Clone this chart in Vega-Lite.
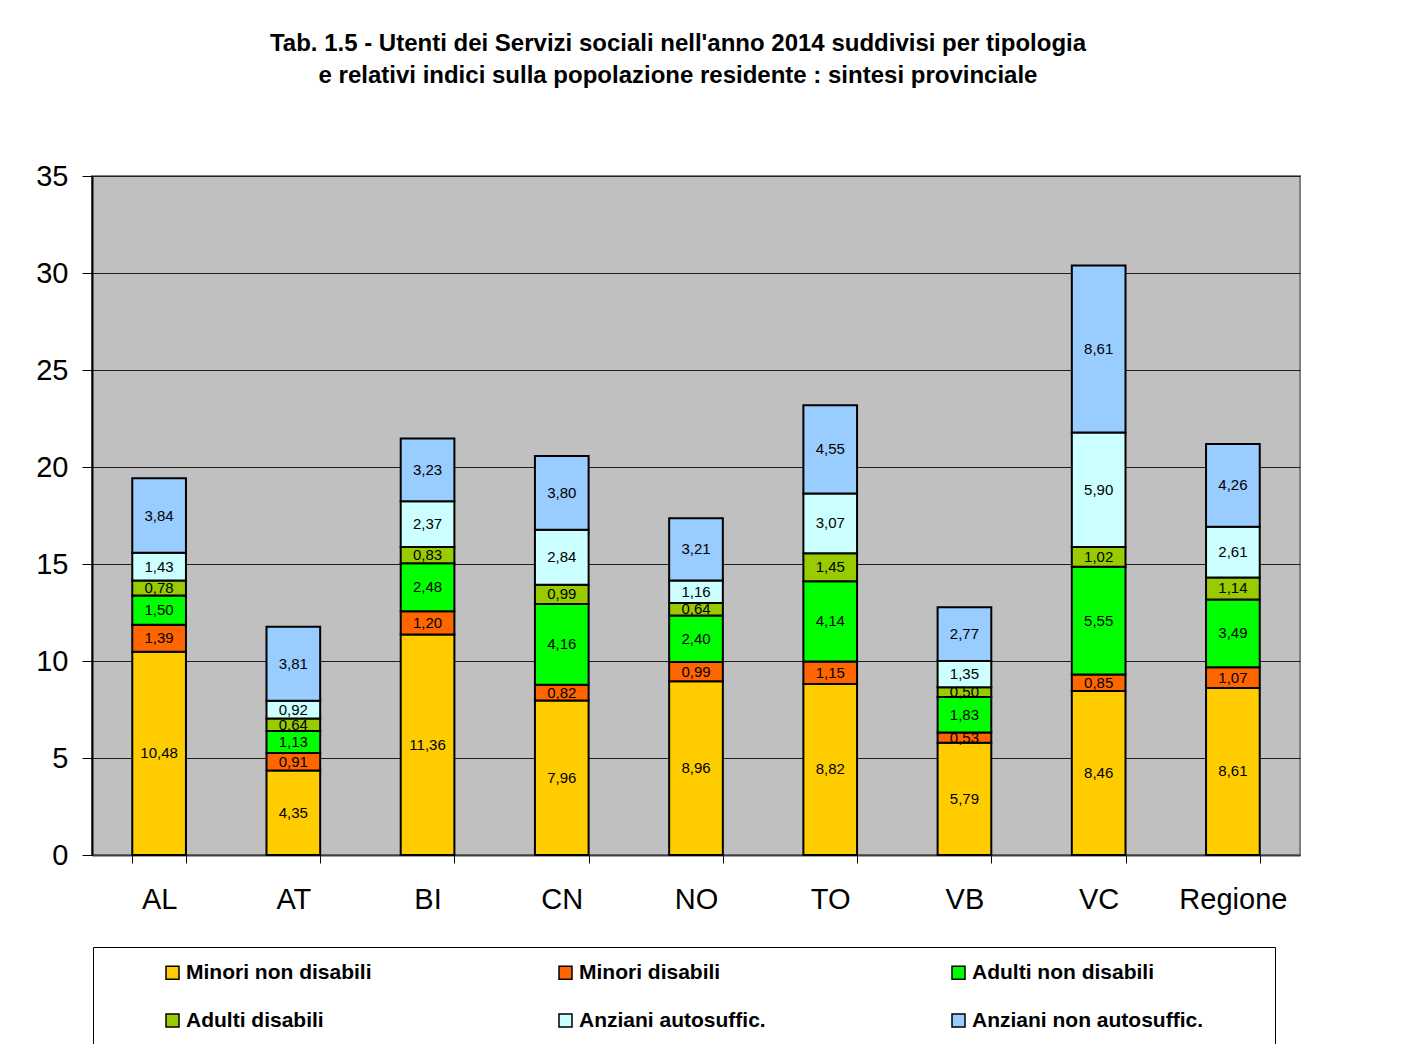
{
  "$schema": "https://vega.github.io/schema/vega-lite/v6.json",
  "width": 1208,
  "height": 679,
  "autosize": {"type": "none"},
  "padding": {"left": 92, "top": 176, "right": 126, "bottom": 189},
  "background": "white",
  "config": {
    "locale": {"number": {"decimal": ",", "thousands": ".", "grouping": [3], "currency": ["€", ""]}},
    "font": "Liberation Sans",
    "view": {"fill": "#C0C0C0", "stroke": "#808080", "strokeWidth": 2}
  },
  "title": {
    "text": ["Tab. 1.5 - Utenti dei Servizi sociali nell'anno 2014 suddivisi per tipologia", "e relativi indici sulla popolazione residente : sintesi provinciale"],
    "anchor": "middle",
    "frame": "group",
    "fontSize": 24,
    "fontWeight": "bold",
    "lineHeight": 32,
    "offset": 74,
    "dx": -18,
    "color": "black"
  },
  "data": {"values": [
    {"area": "AL", "tipo": "Minori non disabili", "ord": 1, "v": 10.48},
    {"area": "AL", "tipo": "Minori disabili", "ord": 2, "v": 1.39},
    {"area": "AL", "tipo": "Adulti non disabili", "ord": 3, "v": 1.50},
    {"area": "AL", "tipo": "Adulti disabili", "ord": 4, "v": 0.78},
    {"area": "AL", "tipo": "Anziani autosuffic.", "ord": 5, "v": 1.43},
    {"area": "AL", "tipo": "Anziani non autosuffic.", "ord": 6, "v": 3.84},
    {"area": "AT", "tipo": "Minori non disabili", "ord": 1, "v": 4.35},
    {"area": "AT", "tipo": "Minori disabili", "ord": 2, "v": 0.91},
    {"area": "AT", "tipo": "Adulti non disabili", "ord": 3, "v": 1.13},
    {"area": "AT", "tipo": "Adulti disabili", "ord": 4, "v": 0.64},
    {"area": "AT", "tipo": "Anziani autosuffic.", "ord": 5, "v": 0.92},
    {"area": "AT", "tipo": "Anziani non autosuffic.", "ord": 6, "v": 3.81},
    {"area": "BI", "tipo": "Minori non disabili", "ord": 1, "v": 11.36},
    {"area": "BI", "tipo": "Minori disabili", "ord": 2, "v": 1.20},
    {"area": "BI", "tipo": "Adulti non disabili", "ord": 3, "v": 2.48},
    {"area": "BI", "tipo": "Adulti disabili", "ord": 4, "v": 0.83},
    {"area": "BI", "tipo": "Anziani autosuffic.", "ord": 5, "v": 2.37},
    {"area": "BI", "tipo": "Anziani non autosuffic.", "ord": 6, "v": 3.23},
    {"area": "CN", "tipo": "Minori non disabili", "ord": 1, "v": 7.96},
    {"area": "CN", "tipo": "Minori disabili", "ord": 2, "v": 0.82},
    {"area": "CN", "tipo": "Adulti non disabili", "ord": 3, "v": 4.16},
    {"area": "CN", "tipo": "Adulti disabili", "ord": 4, "v": 0.99},
    {"area": "CN", "tipo": "Anziani autosuffic.", "ord": 5, "v": 2.84},
    {"area": "CN", "tipo": "Anziani non autosuffic.", "ord": 6, "v": 3.80},
    {"area": "NO", "tipo": "Minori non disabili", "ord": 1, "v": 8.96},
    {"area": "NO", "tipo": "Minori disabili", "ord": 2, "v": 0.99},
    {"area": "NO", "tipo": "Adulti non disabili", "ord": 3, "v": 2.40},
    {"area": "NO", "tipo": "Adulti disabili", "ord": 4, "v": 0.64},
    {"area": "NO", "tipo": "Anziani autosuffic.", "ord": 5, "v": 1.16},
    {"area": "NO", "tipo": "Anziani non autosuffic.", "ord": 6, "v": 3.21},
    {"area": "TO", "tipo": "Minori non disabili", "ord": 1, "v": 8.82},
    {"area": "TO", "tipo": "Minori disabili", "ord": 2, "v": 1.15},
    {"area": "TO", "tipo": "Adulti non disabili", "ord": 3, "v": 4.14},
    {"area": "TO", "tipo": "Adulti disabili", "ord": 4, "v": 1.45},
    {"area": "TO", "tipo": "Anziani autosuffic.", "ord": 5, "v": 3.07},
    {"area": "TO", "tipo": "Anziani non autosuffic.", "ord": 6, "v": 4.55},
    {"area": "VB", "tipo": "Minori non disabili", "ord": 1, "v": 5.79},
    {"area": "VB", "tipo": "Minori disabili", "ord": 2, "v": 0.53},
    {"area": "VB", "tipo": "Adulti non disabili", "ord": 3, "v": 1.83},
    {"area": "VB", "tipo": "Adulti disabili", "ord": 4, "v": 0.50},
    {"area": "VB", "tipo": "Anziani autosuffic.", "ord": 5, "v": 1.35},
    {"area": "VB", "tipo": "Anziani non autosuffic.", "ord": 6, "v": 2.77},
    {"area": "VC", "tipo": "Minori non disabili", "ord": 1, "v": 8.46},
    {"area": "VC", "tipo": "Minori disabili", "ord": 2, "v": 0.85},
    {"area": "VC", "tipo": "Adulti non disabili", "ord": 3, "v": 5.55},
    {"area": "VC", "tipo": "Adulti disabili", "ord": 4, "v": 1.02},
    {"area": "VC", "tipo": "Anziani autosuffic.", "ord": 5, "v": 5.90},
    {"area": "VC", "tipo": "Anziani non autosuffic.", "ord": 6, "v": 8.61},
    {"area": "Regione", "tipo": "Minori non disabili", "ord": 1, "v": 8.61},
    {"area": "Regione", "tipo": "Minori disabili", "ord": 2, "v": 1.07},
    {"area": "Regione", "tipo": "Adulti non disabili", "ord": 3, "v": 3.49},
    {"area": "Regione", "tipo": "Adulti disabili", "ord": 4, "v": 1.14},
    {"area": "Regione", "tipo": "Anziani autosuffic.", "ord": 5, "v": 2.61},
    {"area": "Regione", "tipo": "Anziani non autosuffic.", "ord": 6, "v": 4.26}
  ]},
  "transform": [
    {"stack": "v", "groupby": ["area"], "sort": [{"field": "ord", "order": "ascending"}], "as": ["v0", "v1"]},
    {"calculate": "(datum.v0 + datum.v1) / 2", "as": "vmid"}
  ],
  "encoding": {
    "x": {
      "field": "area", "type": "nominal",
      "sort": ["AL", "AT", "BI", "CN", "NO", "TO", "VB", "VC", "Regione"],
      "scale": {"paddingInner": 0.6, "paddingOuter": 0.3},
      "axis": {
        "title": null, "labelAngle": 0, "labelFontSize": 29, "labelColor": "black",
        "labelPadding": 22, "tickBand": "extent", "tickSize": 8, "tickColor": "black",
        "domainColor": "#404040", "domainWidth": 2
      }
    }
  },
  "layer": [
    {
      "mark": {"type": "bar", "stroke": "black", "strokeWidth": 2},
      "encoding": {
        "y": {
          "field": "v0", "type": "quantitative",
          "scale": {"domain": [0, 35], "nice": false},
          "axis": {
            "title": null, "values": [0, 5, 10, 15, 20, 25, 30, 35], "labelFontSize": 29,
            "labelColor": "black", "labelPadding": 14, "tickSize": 10, "tickColor": "black",
            "domainColor": "black", "domainWidth": 2, "gridColor": "#202020", "gridWidth": 1,
            "format": "d"
          }
        },
        "y2": {"field": "v1"},
        "color": {
          "field": "tipo", "type": "nominal",
          "scale": {
            "domain": ["Minori non disabili", "Minori disabili", "Adulti non disabili", "Adulti disabili", "Anziani autosuffic.", "Anziani non autosuffic."],
            "range": ["#FFCC00", "#FF6600", "#00FF00", "#99CC00", "#CCFFFF", "#99CCFF"]
          },
          "legend": {
            "title": " ", "titleOrient": "right", "titlePadding": 57,
            "orient": "none", "legendX": 1, "legendY": 771,
            "direction": "horizontal", "columns": 3, "gridAlign": "all",
            "columnPadding": 84, "rowPadding": 26,
            "padding": 15, "symbolOffset": 54,
            "strokeColor": "black", "fillColor": "white",
            "symbolType": "square", "symbolSize": 169, "symbolStrokeColor": "black", "symbolStrokeWidth": 1.5,
            "symbolOpacity": 1,
            "labelFontSize": 21, "labelFontWeight": "bold", "labelColor": "black", "labelOffset": 3, "labelLimit": 400
          }
        }
      }
    },
    {
      "mark": {"type": "text", "fontSize": 15, "color": "black", "baseline": "middle"},
      "encoding": {
        "y": {"field": "vmid", "type": "quantitative"},
        "text": {"field": "v", "type": "quantitative", "format": ".2f"}
      }
    }
  ]
}
